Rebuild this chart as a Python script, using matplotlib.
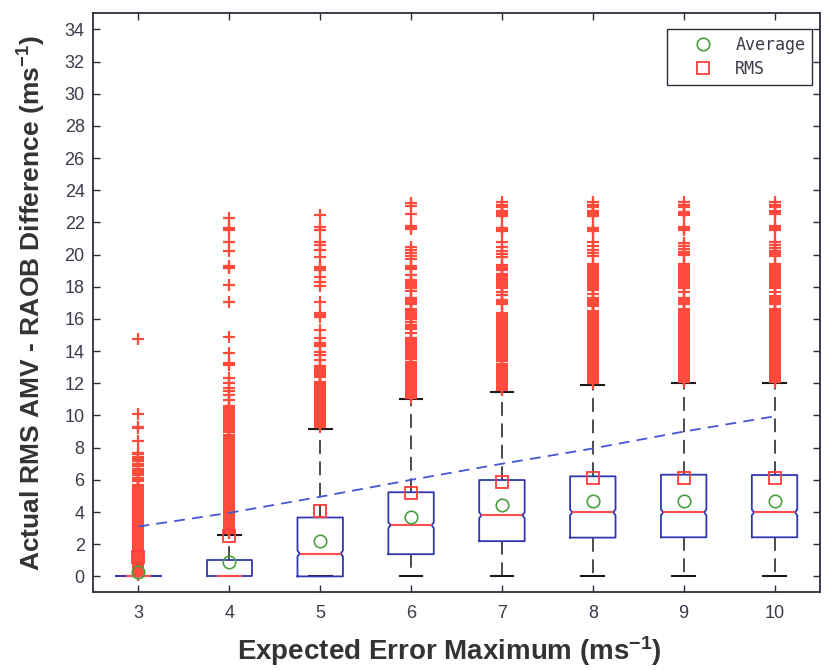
import matplotlib
matplotlib.use("Agg")
import matplotlib.pyplot as plt

plt.rcParams["font.family"] = ["Liberation Sans", "DejaVu Sans"]
plt.rcParams["mathtext.default"] = "regular"

# Expected error maximum classes
positions = [3, 4, 5, 6, 7, 8, 9, 10]
tick_labels = ["3", "4", "5", "6", "7", "8", "9", "10"]

# Box statistics (m/s)
q1 = [0.0, 0.0, 0.0, 1.38, 2.19, 2.41, 2.43, 2.43]
medians = [0.0, 0.0, 1.42, 3.18, 3.80, 3.98, 3.98, 3.98]
q3 = [0.0, 1.03, 3.66, 5.23, 5.99, 6.22, 6.32, 6.30]
whisker_lo = [0.0, 0.0, 0.0, 0.0, 0.0, 0.0, 0.0, 0.0]
whisker_hi = [0.0, 2.60, 9.14, 11.0, 11.46, 11.87, 12.02, 12.0]

# Mean and RMS difference per class
average = [0.30, 0.89, 2.20, 3.70, 4.42, 4.71, 4.71, 4.70]
rms = [1.20, 2.50, 4.09, 5.21, 5.87, 6.11, 6.09, 6.09]

# Expected error maximum reference line
expected = [3.10, 3.95, 4.95, 6.00, 7.00, 7.95, 9.00, 9.95]

# Outliers per class
out3 = [0.1, 0.2, 0.3, 0.4, 0.5, 0.6, 0.7, 0.8, 0.9, 1.0, 1.1, 1.2, 1.3, 1.4, 1.5,
        1.6, 1.7, 1.8, 1.9, 2.0, 2.1, 2.2, 2.3, 2.4, 2.5, 2.6, 2.7, 2.8, 2.9, 3.0,
        3.1, 3.2, 3.3, 3.4, 3.5, 3.6, 3.7, 3.8, 3.9, 4.0, 4.1, 4.2, 4.3, 4.4, 4.5,
        4.6, 4.7, 4.8, 4.9, 5.0, 5.1, 5.2, 5.3, 5.4, 5.5, 5.6, 5.7, 5.9, 6.0, 6.1,
        6.3, 6.4, 6.55, 6.7, 6.85, 7.0, 7.15, 7.3, 7.45, 7.6, 7.7, 8.4, 9.2, 9.3,
        10.1, 14.75]
out4 = [2.7, 2.8, 2.9, 3.0, 3.1, 3.2, 3.3, 3.4, 3.5, 3.6, 3.7, 3.8, 3.9, 4.0, 4.1,
        4.2, 4.3, 4.4, 4.5, 4.6, 4.7, 4.8, 4.9, 5.0, 5.1, 5.2, 5.3, 5.4, 5.5, 5.6,
        5.7, 5.8, 5.9, 6.0, 6.1, 6.2, 6.3, 6.4, 6.5, 6.6, 6.7, 6.8, 6.9, 7.0, 7.1,
        7.2, 7.3, 7.4, 7.5, 7.6, 7.7, 7.8, 7.9, 8.0, 8.1, 8.2, 8.3, 8.4, 8.5, 8.6,
        8.7, 8.8, 9.0, 9.1, 9.2, 9.3, 9.4, 9.5, 9.6, 9.7, 9.8, 9.9, 10.0, 10.1,
        10.2, 10.3, 10.4, 10.5, 10.6, 10.95, 11.3, 11.5, 11.7, 12.0, 12.35, 13.15,
        13.25, 13.9, 14.85, 17.05, 18.1, 19.15, 19.3, 20.2, 20.8, 21.5, 21.65, 22.3]
out5 = [9.3, 9.4, 9.5, 9.6, 9.7, 9.8, 9.9, 10.0, 10.1, 10.2, 10.3, 10.4, 10.5,
        10.6, 10.7, 10.8, 10.9, 11.0, 11.1, 11.2, 11.3, 11.4, 11.5, 11.6, 11.7,
        11.8, 11.9, 12.0, 12.1, 12.4, 12.5, 12.6, 12.7, 12.8, 12.9, 13.0, 13.1,
        13.45, 13.75, 13.95, 14.3, 14.4, 14.5, 14.8, 15.3, 16.15, 16.25, 16.35,
        17.05, 18.05, 18.3, 18.6, 19.05, 19.15, 19.25, 19.85, 20.3, 20.6, 20.8,
        21.5, 21.7, 22.45]
out6 = [11.1, 11.2, 11.3, 11.4, 11.5, 11.6, 11.7, 11.8, 11.9, 12.0, 12.1, 12.2,
        12.3, 12.4, 12.5, 12.6, 12.7, 12.8, 12.9, 13.0, 13.1, 13.2, 13.3, 13.5,
        13.6, 13.7, 13.8, 13.9, 14.0, 14.1, 14.2, 14.3, 14.4, 14.5, 14.6, 14.7,
        14.8, 15.15, 15.35, 15.45, 15.55, 15.65, 15.8, 16.0, 16.1, 16.2, 16.3,
        16.4, 16.5, 16.6, 16.9, 17.0, 17.1, 17.2, 17.3, 17.75, 17.95, 18.05,
        18.15, 18.25, 18.35, 18.45, 18.75, 19.1, 19.2, 19.3, 19.7, 19.9, 20.1,
        20.3, 20.5, 21.6, 21.7, 21.8, 22.5, 23.0, 23.2]
out7 = [11.6, 11.7, 11.8, 11.9, 12.0, 12.1, 12.2, 12.3, 12.4, 12.5, 12.6, 12.7,
        12.8, 12.9, 13.0, 13.1, 13.2, 13.4, 13.5, 13.6, 13.7, 13.8, 13.9, 14.0,
        14.1, 14.2, 14.3, 14.4, 14.5, 14.6, 14.7, 14.8, 14.9, 15.0, 15.1, 15.2,
        15.3, 15.4, 15.5, 15.6, 15.7, 15.8, 15.9, 16.0, 16.1, 16.2, 16.3, 16.4,
        16.9, 17.0, 17.1, 17.2, 17.5, 17.65, 17.9, 18.0, 18.1, 18.2, 18.3, 18.4,
        18.5, 18.6, 18.7, 18.8, 19.05, 19.15, 19.25, 19.35, 19.85, 20.05, 20.25,
        20.5, 20.8, 21.45, 21.55, 21.65, 22.4, 22.5, 22.6, 22.7, 22.95, 23.1, 23.3]
out8 = [12.0, 12.1, 12.2, 12.3, 12.4, 12.5, 12.6, 12.7, 12.8, 12.9, 13.0, 13.1,
        13.2, 13.3, 13.4, 13.5, 13.6, 13.7, 13.8, 13.9, 14.0, 14.1, 14.2, 14.3,
        14.4, 14.5, 14.6, 14.7, 14.8, 14.9, 15.0, 15.1, 15.2, 15.3, 15.4, 15.5,
        15.6, 15.7, 15.8, 15.9, 16.0, 16.1, 16.2, 16.3, 16.4, 16.5, 16.8, 16.9,
        17.0, 17.1, 17.2, 17.3, 17.55, 17.8, 17.9, 18.0, 18.1, 18.2, 18.3, 18.4,
        18.5, 18.6, 18.7, 18.8, 18.9, 19.0, 19.1, 19.2, 19.3, 19.4, 19.9, 20.1,
        20.3, 20.55, 20.8, 21.45, 21.55, 21.65, 22.4, 22.5, 22.6, 22.7, 22.95,
        23.1, 23.3]
out9 = [12.1, 12.2, 12.3, 12.4, 12.5, 12.6, 12.7, 12.8, 12.9, 13.0, 13.1, 13.2,
        13.3, 13.4, 13.5, 13.6, 13.7, 13.8, 13.9, 14.0, 14.1, 14.2, 14.3, 14.4,
        14.5, 14.6, 14.7, 14.8, 14.9, 15.0, 15.1, 15.2, 15.3, 15.4, 15.5, 15.6,
        15.7, 15.8, 15.9, 16.0, 16.1, 16.2, 16.3, 16.4, 16.5, 16.6, 16.9, 17.0,
        17.1, 17.2, 17.3, 17.65, 17.9, 18.0, 18.1, 18.2, 18.3, 18.4, 18.5, 18.6,
        18.7, 18.8, 18.9, 19.0, 19.1, 19.2, 19.3, 19.4, 19.95, 20.05, 20.15, 20.35,
        20.55, 20.75, 21.5, 21.6, 21.7, 22.45, 22.55, 22.65, 22.95, 23.1, 23.3]
out10 = [12.1, 12.2, 12.3, 12.4, 12.5, 12.6, 12.7, 12.8, 12.9, 13.0, 13.1, 13.2,
         13.3, 13.4, 13.5, 13.6, 13.7, 13.8, 13.9, 14.0, 14.1, 14.2, 14.3, 14.4,
         14.5, 14.6, 14.7, 14.8, 14.9, 15.0, 15.1, 15.2, 15.3, 15.4, 15.5, 15.6,
         15.7, 15.8, 15.9, 16.0, 16.1, 16.2, 16.3, 16.4, 16.5, 16.6, 16.9, 17.0,
         17.1, 17.2, 17.3, 17.4, 17.7, 17.9, 18.0, 18.1, 18.2, 18.3, 18.4, 18.5,
         18.6, 18.7, 18.8, 18.9, 19.0, 19.1, 19.2, 19.3, 19.4, 19.9, 20.0, 20.1,
         20.2, 20.4, 20.6, 20.8, 21.5, 21.6, 21.7, 21.8, 22.5, 22.6, 22.7, 22.95,
         23.1, 23.3]
outliers = [out3, out4, out5, out6, out7, out8, out9, out10]

BOX_BLUE = "#3038b0"
MEDIAN_RED = "#ff4d4d"
FLIER_RED = "#ff4a3c"
GREEN = "#4aa040"
LINE_BLUE = "#4556d4"
AXIS_COL = "#2b2d3a"
TEXT_COL = "#3a3c4a"

fig = plt.figure(figsize=(8.27, 6.70), dpi=100)
ax = fig.add_axes([0.1125, 0.1157, 0.879, 0.8645])

stats = []
for i in range(len(positions)):
    stats.append(dict(med=medians[i], q1=q1[i], q3=q3[i],
                      whislo=whisker_lo[i], whishi=whisker_hi[i],
                      fliers=outliers[i]))

box_w = 0.5
bp = ax.bxp(stats, positions=positions, widths=box_w, showfliers=True,
            boxprops=dict(color=BOX_BLUE, lw=1.3, zorder=3),
            medianprops=dict(color=MEDIAN_RED, lw=1.5, zorder=3.1),
            whiskerprops=dict(color="#1a1a1a", lw=1.1, linestyle=(0, (9, 5)), zorder=2),
            capprops=dict(color="#1a1a1a", lw=1.5, zorder=2),
            flierprops=dict(marker="+", markersize=9, markeredgecolor=FLIER_RED,
                            markeredgewidth=1.6, linestyle="none", zorder=2.5))

# small notches around the median; flat boxes get a short median mark
hw = box_w / 2
indent = 0.025
nh = 0.18
for i, p in enumerate(positions):
    m = medians[i]
    if q1[i] < m < q3[i]:
        xs = [p - hw, p + hw, p + hw, p + hw - indent, p + hw, p + hw,
              p - hw, p - hw, p - hw + indent, p - hw, p - hw]
        ys = [q1[i], q1[i], m - nh, m, m + nh, q3[i], q3[i], m + nh, m, m - nh, q1[i]]
        bp["boxes"][i].set_data(xs, ys)
        bp["medians"][i].set_data([p - hw + indent, p + hw - indent], [m, m])
    else:
        bp["medians"][i].set_data([p - hw * 0.55, p + hw * 0.55], [m, m])

ax.plot(positions, expected, color=LINE_BLUE, lw=1.3, linestyle=(0, (6, 4)), zorder=5)
h_avg, = ax.plot(positions, average, linestyle="none", marker="o", markersize=9,
                 markerfacecolor="none", markeredgecolor=GREEN, markeredgewidth=1.2,
                 zorder=6, label="Average")
h_rms, = ax.plot(positions, rms, linestyle="none", marker="s", markersize=9,
                 markerfacecolor="none", markeredgecolor="#ff3b3b", markeredgewidth=1.3,
                 zorder=6, label="RMS")

ax.set_xlim(2.5, 10.5)
ax.set_ylim(-1, 35)
ax.set_xticks(positions)
ax.set_xticklabels(tick_labels)
ax.set_yticks(range(0, 35, 2))

for s in ax.spines.values():
    s.set_color(AXIS_COL)
    s.set_linewidth(1.3)
ax.tick_params(direction="in", top=True, right=True, length=5, width=1,
               color=AXIS_COL, labelsize=13, labelcolor=TEXT_COL)
ax.tick_params(axis="x", pad=9)
ax.tick_params(axis="y", pad=6)

ax.set_xlabel("Expected Error Maximum (ms$^{-1}$)", fontsize=20, fontweight="bold",
              color="#333333")
ax.set_ylabel("Actual RMS AMV - RAOB Difference (ms$^{-1}$)", fontsize=19,
              fontweight="bold", color="#333333")
ax.xaxis.set_label_coords(0.49, -0.072)
ax.yaxis.set_label_coords(-0.062, 0.5)

leg = ax.legend(handles=[h_avg, h_rms], loc="upper right",
                bbox_to_anchor=(0.989, 0.973), borderaxespad=0, numpoints=1,
                prop={"family": "DejaVu Sans Mono", "size": 12},
                handlelength=3.5, handletextpad=0.2, borderpad=0.4,
                labelspacing=0.4, fancybox=False, framealpha=1)
leg.get_frame().set_edgecolor(AXIS_COL)
leg.get_frame().set_linewidth(1.0)
for t in leg.get_texts():
    t.set_color(TEXT_COL)

fig.savefig("out.png", dpi=100)
